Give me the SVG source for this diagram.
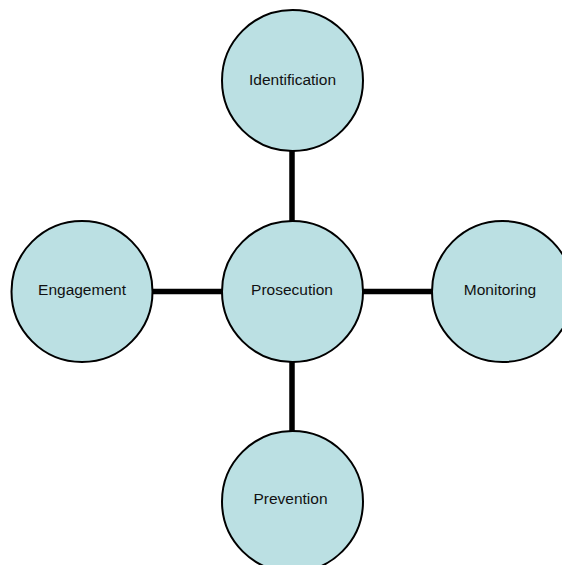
<svg xmlns="http://www.w3.org/2000/svg" width="562" height="565" viewBox="0 0 562 565">
<style>
.n{fill:#BBE0E3;stroke:#000;stroke-width:2}
.t{font-family:"Liberation Sans",Arial,sans-serif;font-size:15.5px;fill:#111;text-anchor:middle;dominant-baseline:central}
.c{stroke:#000;stroke-width:5.5;fill:none}
</style>
<rect width="562" height="565" fill="#fff"/>
<g id="connectors">
<line class="c" x1="292" y1="151" x2="292" y2="221"/>
<line class="c" x1="152" y1="291.5" x2="222" y2="291.5"/>
<line class="c" x1="362" y1="291.5" x2="432" y2="291.5"/>
<line class="c" x1="292" y1="362" x2="292" y2="431"/>
</g>
<g id="identification"><circle class="n" cx="292.5" cy="80.5" r="70.5"/><text class="t" x="292.5" y="79">Identification</text></g>
<g id="prosecution"><circle class="n" cx="292.5" cy="291.5" r="70.5"/><text class="t" x="292" y="289">Prosecution</text></g>
<g id="engagement"><circle class="n" cx="82" cy="291.5" r="70.5"/><text class="t" x="82" y="289">Engagement</text></g>
<g id="monitoring"><circle class="n" cx="502.5" cy="291.5" r="70.5"/><text class="t" x="500" y="289">Monitoring</text></g>
<g id="prevention"><circle class="n" cx="292.5" cy="501.5" r="70.5"/><text class="t" x="290.5" y="498">Prevention</text></g>
</svg>
